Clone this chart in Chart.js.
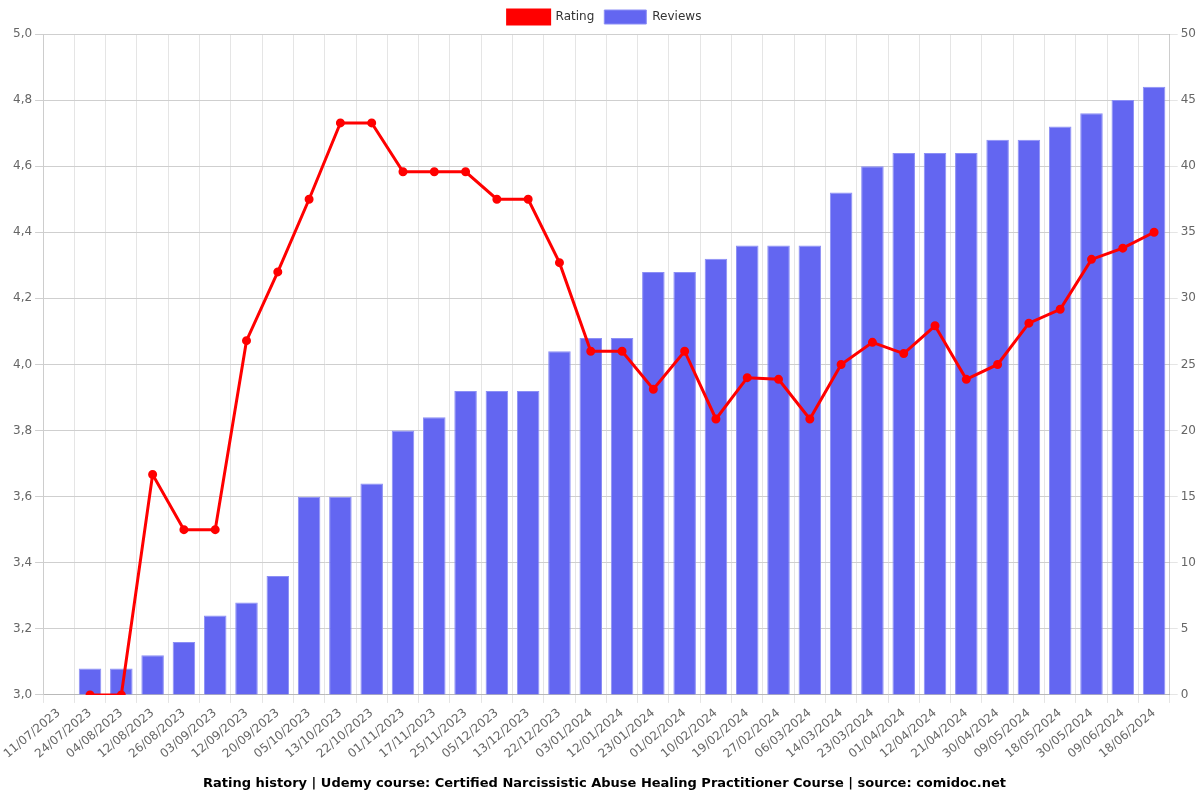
<!DOCTYPE html>
<html>
<head>
<meta charset="utf-8">
<script src="https://cdn.jsdelivr.net/npm/chart.js@4/dist/chart.umd.min.js"></script>
<style>
  html, body { margin: 0; padding: 0; background: #fff; }
  #wrap { width: 1200px; height: 800px; }
</style>
</head>
<body>
<div id="wrap"><canvas id="myChart"></canvas></div>
<script>
const dates = [
    "11/07/2023", "24/07/2023", "04/08/2023", "12/08/2023", "26/08/2023", "03/09/2023",
    "12/09/2023", "20/09/2023", "05/10/2023", "13/10/2023", "22/10/2023", "01/11/2023",
    "17/11/2023", "25/11/2023", "05/12/2023", "13/12/2023", "22/12/2023", "03/01/2024",
    "12/01/2024", "23/01/2024", "01/02/2024", "10/02/2024", "19/02/2024", "27/02/2024",
    "06/03/2024", "14/03/2024", "23/03/2024", "01/04/2024", "12/04/2024", "21/04/2024",
    "30/04/2024", "09/05/2024", "18/05/2024", "30/05/2024", "09/06/2024", "18/06/2024"
];

const ratings = [
    null, 3.0, 3.0, 3.667, 3.5, 3.5,
    4.072, 4.28, 4.5, 4.731, 4.731, 4.583,
    4.583, 4.583, 4.5, 4.5, 4.308, 4.04,
    4.04, 3.925, 4.04, 3.835, 3.96, 3.955,
    3.835, 4.0, 4.067, 4.033, 4.117, 3.955,
    4.0, 4.125, 4.167, 4.318, 4.352, 4.4
];

const reviews = [
    null, 2, 2, 3, 4, 6,
    7, 9, 15, 15, 16, 20,
    21, 23, 23, 23, 26, 27,
    27, 32, 32, 33, 34, 34,
    34, 38, 40, 41, 41, 41,
    42, 42, 43, 44, 45, 46
];

const titleText = "Rating history | Udemy course: Certified Narcissistic Abuse Healing Practitioner Course | source: comidoc.net";

Chart.defaults.font.family = "'DejaVu Sans', Verdana, sans-serif";
Chart.defaults.font.size = 12;
Chart.defaults.color = "#666";

const fmtComma = v => Number(v).toFixed(1).replace(".", ",");

new Chart(document.getElementById("myChart"), {
    data: {
        labels: dates,
        datasets: [
            {
                type: "line",
                label: "Rating",
                data: ratings,
                yAxisID: "y",
                borderColor: "#ff0000",
                backgroundColor: "#ff0000",
                borderWidth: 3,
                pointRadius: 3,
                pointHoverRadius: 4,
                tension: 0,
                order: 0
            },
            {
                type: "bar",
                label: "Reviews",
                data: reviews,
                yAxisID: "y1",
                backgroundColor: "#6366f1",
                borderColor: "rgba(140,143,245,1)",
                borderWidth: 1,
                order: 1
            }
        ]
    },
    options: {
        responsive: true,
        maintainAspectRatio: false,
        animation: false,
        layout: { padding: { left: 10, right: 1, top: 0, bottom: 4 } },
        plugins: {
            legend: {
                position: "top",
                labels: { boxWidth: 42, boxHeight: 14, color: "#333", padding: 10 }
            },
            title: {
                display: true,
                position: "bottom",
                text: titleText,
                color: "#000",
                font: { size: 13, weight: "bold" },
                padding: { top: 11, bottom: 5 }
            },
            tooltip: { enabled: false }
        },
        scales: {
            x: {
                grid: { color: "#e5e5e5", offset: true },
                ticks: { maxRotation: 40, minRotation: 40, autoSkip: false, color: "#666" }
            },
            y: {
                position: "left",
                min: 3.0,
                max: 5.0,
                ticks: { stepSize: 0.2, callback: fmtComma, color: "#666" },
                grid: { color: "#cfcfcf" }
            },
            y1: {
                position: "right",
                min: 0,
                max: 50,
                ticks: { stepSize: 5, color: "#666" },
                grid: { drawOnChartArea: false }
            }
        }
    }
});
</script>
</body>
</html>
